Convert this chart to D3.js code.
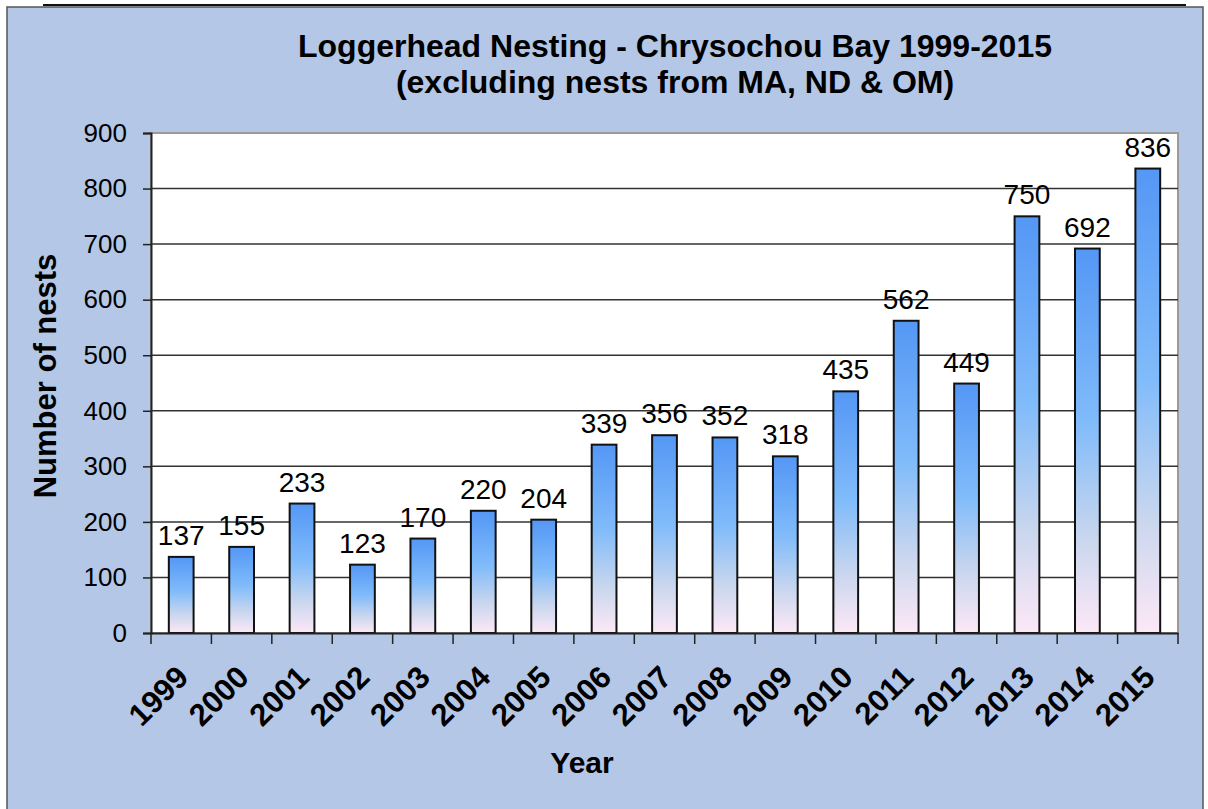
<!DOCTYPE html>
<html lang="en">
<head>
<meta charset="utf-8">
<title>Loggerhead Nesting</title>
<script type="text/javascript" src="https://d3js.org/d3.v7.min.js"></script>
<style>
  body { margin: 0; background: #fff; }
  text { font-family: "Liberation Sans", Arial, sans-serif; fill: #000; }
  .tick text { font-size: 26px; }
  .x-axis .tick text { font-size: 31px; font-weight: bold; }
</style>
</head>
<body>
<div id="chart"></div>
<script type="text/javascript">
const years = ["1999","2000","2001","2002","2003","2004","2005","2006","2007","2008","2009","2010","2011","2012","2013","2014","2015"];
const nests = [137,155,233,123,170,220,204,339,356,352,318,435,562,449,750,692,836];
const yTicks = [0,100,200,300,400,500,600,700,800,900];

const width = 1208, height = 809;
const margin = {top: 133, right: 30, bottom: 176, left: 151};
const plotRight = 1178;

const svg = d3.select("#chart").append("svg")
  .attr("width", width)
  .attr("height", height);

// background panel
svg.append("rect")
  .attr("x", 7).attr("y", 7)
  .attr("width", 1196).attr("height", 810)
  .attr("fill", "#b4c7e7")
  .attr("stroke", "#555").attr("stroke-width", 1.5);
svg.append("line")
  .attr("x1", 43).attr("x2", 1186).attr("y1", 5).attr("y2", 5)
  .attr("stroke", "#111").attr("stroke-width", 2);

const defs = svg.append("defs");
const grad = defs.append("linearGradient")
  .attr("id", "barGrad")
  .attr("x1", 0).attr("y1", 0).attr("x2", 0).attr("y2", 1);
grad.append("stop").attr("offset", "0%").attr("stop-color", "#5497f5");
grad.append("stop").attr("offset", "45%").attr("stop-color", "#80bbfa");
grad.append("stop").attr("offset", "75%").attr("stop-color", "#c8d6ee");
grad.append("stop").attr("offset", "100%").attr("stop-color", "#fde8f6");

const x = d3.scaleBand()
  .domain(years)
  .range([margin.left, plotRight])
  .paddingInner(0.59)
  .paddingOuter(0.295);

const xTick = d3.scaleBand()
  .domain(years)
  .range([margin.left, plotRight]);

const y = d3.scaleLinear()
  .domain([0, 900])
  .range([height - margin.bottom, margin.top]);

// plot area
svg.append("rect")
  .attr("x", margin.left).attr("y", y(900))
  .attr("width", plotRight - margin.left)
  .attr("height", y(0) - y(900))
  .attr("fill", "#fff")
  .attr("stroke", "#9a9a9a").attr("stroke-width", 2);

// gridlines
svg.append("g")
  .selectAll("line")
  .data(yTicks.filter(d => d > 0 && d < 900))
  .join("line")
  .attr("x1", margin.left).attr("x2", plotRight)
  .attr("y1", d => y(d)).attr("y2", d => y(d))
  .attr("stroke", "#333").attr("stroke-width", 1.5);

// bars
svg.append("g")
  .selectAll("rect")
  .data(nests)
  .join("rect")
  .attr("x", (d, i) => x(years[i]))
  .attr("y", d => y(d))
  .attr("width", x.bandwidth())
  .attr("height", d => y(0) - y(d))
  .attr("fill", "url(#barGrad)")
  .attr("stroke", "#111").attr("stroke-width", 2);

// value labels
svg.append("g")
  .selectAll("text")
  .data(nests)
  .join("text")
  .attr("x", (d, i) => x(years[i]) + x.bandwidth() / 2)
  .attr("y", d => y(d) - 12)
  .attr("text-anchor", "middle")
  .style("font-size", "28px")
  .text(d => d);

// y axis
const yAxis = svg.append("g")
  .attr("transform", `translate(${margin.left},0)`)
  .call(d3.axisLeft(y).tickValues(yTicks).tickSize(8).tickPadding(16));
yAxis.select(".domain").attr("stroke", "#222").attr("stroke-width", 2);
yAxis.selectAll(".tick line").attr("stroke", "#222").attr("stroke-width", 1.5);

// x axis
const xAxis = svg.append("g")
  .attr("class", "x-axis")
  .attr("transform", `translate(0,${y(0)})`)
  .call(d3.axisBottom(xTick).tickSize(0).tickPadding(0));
xAxis.select(".domain").attr("stroke", "#222").attr("stroke-width", 2);
xAxis.selectAll(".tick text")
  .attr("text-anchor", "end")
  .attr("transform", "translate(9,46) rotate(-45)")
  .attr("dy", 0)
  .attr("y", 0);
// boundary ticks between categories
svg.append("g")
  .selectAll("line")
  .data(d3.range(years.length + 1))
  .join("line")
  .attr("x1", i => margin.left + i * xTick.step())
  .attr("x2", i => margin.left + i * xTick.step())
  .attr("y1", y(0)).attr("y2", y(0) + 11)
  .attr("stroke", "#222").attr("stroke-width", 1.5);

// titles
svg.append("text")
  .attr("x", 675).attr("y", 57)
  .attr("text-anchor", "middle")
  .style("font-size", "32px").style("font-weight", "bold")
  .text("Loggerhead Nesting - Chrysochou Bay 1999-2015");
svg.append("text")
  .attr("x", 675).attr("y", 93)
  .attr("text-anchor", "middle")
  .style("font-size", "32px").style("font-weight", "bold")
  .text("(excluding nests from MA, ND & OM)");

svg.append("text")
  .attr("transform", "translate(56,376) rotate(-90)")
  .attr("text-anchor", "middle")
  .style("font-size", "31px").style("font-weight", "bold")
  .text("Number of nests");

svg.append("text")
  .attr("x", 582).attr("y", 773)
  .attr("text-anchor", "middle")
  .style("font-size", "30px").style("font-weight", "bold")
  .text("Year");
</script>
</body>
</html>
